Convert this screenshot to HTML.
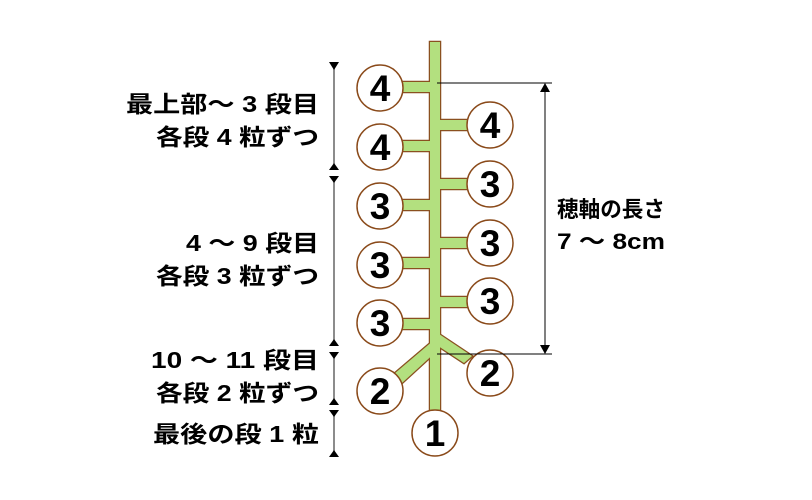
<!DOCTYPE html>
<html><head><meta charset="utf-8"><style>
body{margin:0;background:#fff}
svg{display:block}
text{font-family:"Liberation Sans","Noto Sans CJK JP",sans-serif;font-weight:bold;fill:#000}
</style></head><body>
<svg width="812" height="500" viewBox="0 0 812 500" xmlns="http://www.w3.org/2000/svg">
<defs>
<g id="plant">
<rect x="430" y="42" width="10" height="372"/>
<rect x="400" y="82" width="32" height="10"/>
<rect x="438" y="120" width="32" height="10"/>
<rect x="400" y="141" width="32" height="10"/>
<rect x="438" y="179" width="32" height="10"/>
<rect x="400" y="200" width="32" height="10"/>
<rect x="438" y="238" width="32" height="10"/>
<rect x="400" y="258" width="32" height="10"/>
<rect x="438" y="297" width="32" height="10"/>
<rect x="400" y="319" width="32" height="10"/>
<polygon points="436,332 472,356 464,363 432,342"/>
<polygon points="434,340 438,350 402,383 394,374"/>
</g>
</defs>
<use href="#plant" fill="none" stroke="#8a5020" stroke-width="2.5"/>
<use href="#plant" fill="#b3e07f" stroke="none"/>
<g fill="#fff" stroke="#8a4a1a" stroke-width="1.5">
<circle cx="380" cy="88" r="23"/>
<circle cx="380" cy="147" r="23"/>
<circle cx="380" cy="206" r="23"/>
<circle cx="380" cy="265" r="23"/>
<circle cx="380" cy="323" r="23"/>
<circle cx="380" cy="391" r="23"/>
<circle cx="490" cy="125" r="23"/>
<circle cx="490" cy="184" r="23"/>
<circle cx="490" cy="243" r="23"/>
<circle cx="490" cy="301" r="23"/>
<circle cx="490" cy="373" r="23"/>
<circle cx="435" cy="433" r="23"/>
</g>
<g font-size="37" text-anchor="middle">
<text x="380" y="101">4</text>
<text x="380" y="160">4</text>
<text x="380" y="219">3</text>
<text x="380" y="278">3</text>
<text x="380" y="336">3</text>
<text x="380" y="404">2</text>
<text x="490" y="138">4</text>
<text x="490" y="197">3</text>
<text x="490" y="256">3</text>
<text x="490" y="314">3</text>
<text x="490" y="386">2</text>
<text x="435" y="446">1</text>
</g>
<g stroke="#000" stroke-width="1">
<line x1="437" y1="83" x2="552" y2="83"/>
<line x1="437" y1="354" x2="552" y2="354"/>
<line x1="545" y1="88" x2="545" y2="348"/>
</g>
<polygon points="545,83 540,92 550,92" fill="#000"/>
<polygon points="545,354 540,345 550,345" fill="#000"/>
<g stroke="#666" stroke-width="1.5">
<line x1="334" y1="64" x2="334" y2="164"/>
<line x1="334" y1="176" x2="334" y2="342"/>
<line x1="334" y1="353" x2="334" y2="402"/>
<line x1="334" y1="412" x2="334" y2="452"/>
</g>
<g fill="#000">
<polygon points="329,62 339,62 334,70"/>
<polygon points="329,170 339,170 334,163"/>
<polygon points="329,176 339,176 334,183"/>
<polygon points="329,346 339,346 334,339"/>
<polygon points="329,352 339,352 334,359"/>
<polygon points="329,405 339,405 334,398"/>
<polygon points="329,410 339,410 334,417"/>
<polygon points="329,457 339,457 334,450"/>
</g>
<g font-size="23" text-anchor="end">
<text x="319" y="112" textLength="193" lengthAdjust="spacingAndGlyphs">最上部～ 3 段目</text>
<text x="319" y="145" textLength="163" lengthAdjust="spacingAndGlyphs">各段 4 粒ずつ</text>
<text x="319" y="251" textLength="133" lengthAdjust="spacingAndGlyphs">4 ～ 9 段目</text>
<text x="319" y="284" textLength="163" lengthAdjust="spacingAndGlyphs">各段 3 粒ずつ</text>
<text x="319" y="368" textLength="168" lengthAdjust="spacingAndGlyphs">10 ～ 11 段目</text>
<text x="319" y="401" textLength="163" lengthAdjust="spacingAndGlyphs">各段 2 粒ずつ</text>
<text x="319" y="442" textLength="166" lengthAdjust="spacingAndGlyphs">最後の段 1 粒</text>
</g>
<g font-size="22">
<text x="557" y="217" textLength="108" lengthAdjust="spacingAndGlyphs">穂軸の長さ</text>
<text x="557" y="249" font-weight="normal" textLength="108" lengthAdjust="spacingAndGlyphs">7 ～ 8cm</text>
</g>
</svg>
</body></html>
